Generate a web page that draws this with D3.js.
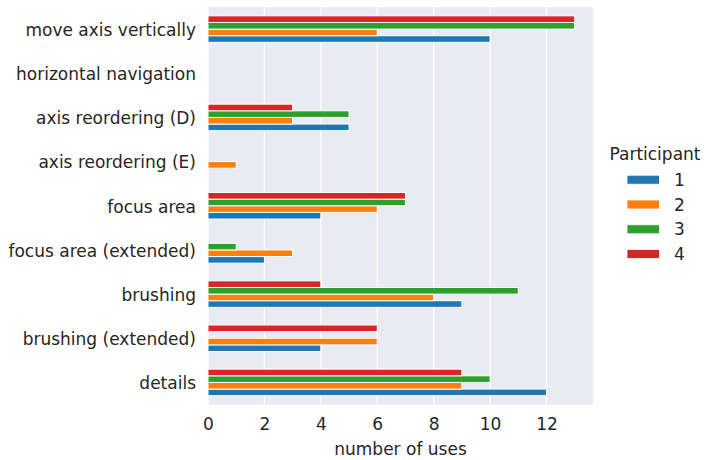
<!DOCTYPE html>
<html><head><meta charset="utf-8">
<script src="https://cdn.jsdelivr.net/npm/d3@7"></script>
<style>body{margin:0;background:#fff;} text{font-family:"DejaVu Sans",sans-serif;fill:#262626;}</style>
</head><body>
<svg id="c" width="704" height="460"></svg>
<script>
const categories = ["move axis vertically","horizontal navigation","axis reordering (D)","axis reordering (E)","focus area","focus area (extended)","brushing","brushing (extended)","details"];
const participants = ["1","2","3","4"];
const p1 = [10,0,5,0,4,2,9,4,12];
const p2 = [6,0,3,1,6,3,8,6,9];
const p3 = [13,0,5,0,7,1,11,0,10];
const p4 = [13,0,3,0,7,0,4,6,9];
const xTicks = [0,2,4,6,8,10,12];
const colors = ["#1f77b4","#ff7f0e","#2ca02c","#d62728"];
const series = [p1,p2,p3,p4];

const svg = d3.select("#c");
const L=208, R=593, T=7, B=404.5;
const FS = "17px";
const x = d3.scaleLinear().domain([0,13.65]).range([L,R]);
const y = d3.scaleBand().domain(categories).range([T,B]);
const inner = d3.scaleBand().domain(["4","3","2","1"]).range([0, y.bandwidth()*0.6]);
const off = y.bandwidth()*0.2;

svg.append("rect").attr("x",L).attr("y",T).attr("width",R-L).attr("height",B-T).attr("fill","#EAEAF2");
svg.append("g").selectAll("line").data(xTicks).join("line")
  .attr("x1",d=>x(d)).attr("x2",d=>x(d)).attr("y1",T).attr("y2",B)
  .attr("stroke","#fff").attr("stroke-width",1.25);

participants.forEach((p,i)=>{
  svg.append("g").selectAll("rect").data(categories.map((c,j)=>({c,v:series[i][j]}))).join("rect")
    .attr("x",x(0)).attr("y",d=>y(d.c)+off+inner(p))
    .attr("width",d=>x(d.v)-x(0)).attr("height",inner.bandwidth())
    .attr("fill",colors[i]).attr("stroke",d=>d.v>0?"#fff":"none").attr("stroke-width",1);
});

const xa = svg.append("g").attr("transform",`translate(0,${B})`)
  .call(d3.axisBottom(x).tickValues(xTicks).tickSize(0).tickPadding(13));
xa.select(".domain").remove();
xa.selectAll("text").style("font-size",FS).style("fill","#262626").style("font-family","DejaVu Sans");

const ya = svg.append("g").attr("transform",`translate(${L},0)`)
  .call(d3.axisLeft(y).tickSize(0).tickPadding(12));
ya.select(".domain").remove();
ya.selectAll("text").style("font-size",FS).style("fill","#262626").style("font-family","DejaVu Sans").attr("dy","0.4em");

svg.append("text").attr("x",(L+R)/2).attr("y",455).attr("text-anchor","middle").style("font-size",FS).text("number of uses");

const lg = svg.append("g");
lg.append("text").attr("x",655).attr("y",160).attr("text-anchor","middle").style("font-size",FS).text("Participant");
participants.forEach((p,i)=>{
  const yy = 179.7 + i*24.8;
  lg.append("rect").attr("x",627).attr("y",yy-4.5).attr("width",32.5).attr("height",9).attr("fill",colors[i]).attr("stroke","#fff").attr("stroke-width",0.8);
  lg.append("text").attr("x",674).attr("y",yy+6).style("font-size",FS).text(p);
});
</script>
</body></html>
